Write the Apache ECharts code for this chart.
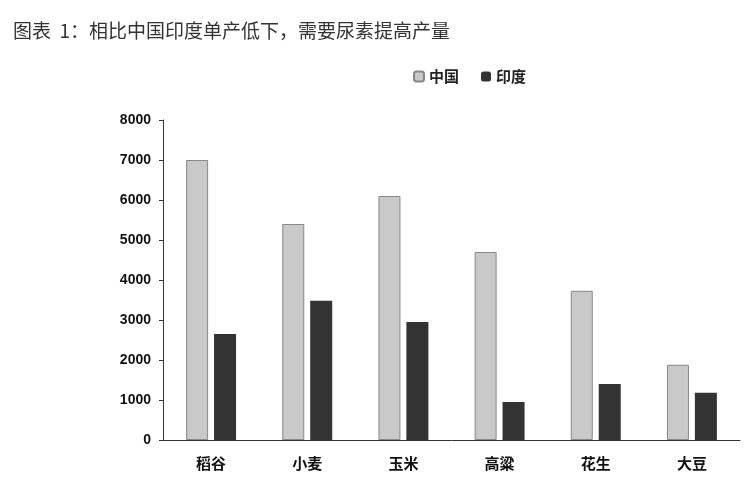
<!DOCTYPE html><html><head><meta charset="utf-8"><script src="https://cdn.jsdelivr.net/npm/echarts@6/dist/echarts.min.js"></script></head><body style="margin:0"><div id="c" style="width:750px;height:500px"></div><script>
const categories=['稻谷','小麦','玉米','高粱','花生','大豆'];
const china=[7000,5400,6100,4700,3730,1880];
const india=[2650,3480,2950,950,1400,1180];
const ch=echarts.init(document.getElementById('c'));
ch.setOption({backgroundColor:'#fff',
title:{text:'图表  1：相比中国印度单产低下，需要尿素提高产量',left:8,top:16,textStyle:{fontSize:19,fontWeight:'normal',color:'#333',fontFamily:'Noto Sans CJK SC'}},
legend:{top:64,left:408,itemWidth:10,itemHeight:10,itemGap:22,textStyle:{fontSize:15,color:'#222',fontWeight:'bold',fontFamily:'Noto Sans CJK SC'},data:['中国','印度']},
grid:{left:163,right:10,top:120,bottom:60},
xAxis:{type:'category',data:categories,axisLine:{lineStyle:{color:'#333'}},axisTick:{show:false},axisLabel:{fontSize:15,color:'#111',fontWeight:'bold',margin:16,fontFamily:'Noto Sans CJK SC'}},
yAxis:{type:'value',min:0,max:8000,interval:1000,splitLine:{show:false},axisLine:{show:true,lineStyle:{color:'#333'}},axisTick:{show:true,length:4},axisLabel:{fontSize:14,color:'#111',fontWeight:'bold',margin:12,formatter:v=>String(v)}},
series:[{name:'中国',type:'bar',data:china,barWidth:22,barGap:'27%',itemStyle:{color:'#c9c9c9',borderColor:'#888',borderWidth:1}},
{name:'印度',type:'bar',data:india,barWidth:22,itemStyle:{color:'#333'}}]});
</script></body></html>
